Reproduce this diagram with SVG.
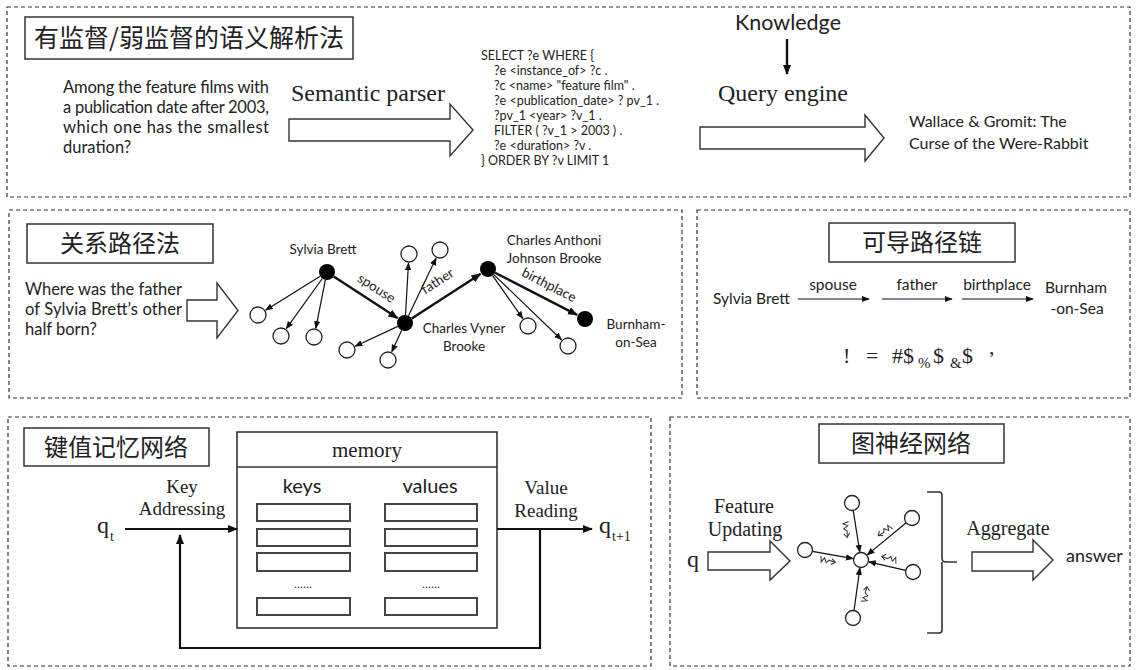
<svg xmlns="http://www.w3.org/2000/svg" width="1137" height="670" viewBox="0 0 1137 670">
  <style>
    .panel { fill: none; stroke: #333; stroke-width: 1.2; stroke-dasharray: 4 3; }
    .tbox { fill: #fff; stroke: #333; stroke-width: 1.5; }
    .cjk { font-family: "Noto Sans CJK SC", sans-serif; font-size: 24px; fill: #222; text-anchor: middle; }
    .sans { font-family: Lato, "Liberation Sans", sans-serif; fill: #222; }
    .serif { font-family: "Liberation Serif", serif; fill: #222; }
    .hollow { fill: #fff; stroke: #333; stroke-width: 1.4; stroke-linejoin: miter; }
    .edge { stroke: #111; stroke-width: 1.2; fill: none; marker-end: url(#ah); }
    .edgeb { stroke: #111; stroke-width: 2.4; fill: none; marker-end: url(#ahb); }
    .node { fill: #fff; stroke: #222; stroke-width: 1.3; }
    .fnode { fill: #000; }
    .row { fill: #fff; stroke: #444; stroke-width: 2; }
    .flow { stroke: #111; stroke-width: 2.2; fill: none; }
    .msg { stroke: #333; stroke-width: 1; fill: none; }
  </style>
  <defs>
    <marker id="ah" viewBox="0 0 10 10" refX="9" refY="5" markerWidth="8" markerHeight="8" markerUnits="userSpaceOnUse" orient="auto">
      <path d="M0,1 L10,5 L0,9 z" fill="#111"/>
    </marker>
    <marker id="ahb" viewBox="0 0 10 10" refX="9" refY="5" markerWidth="10" markerHeight="10" markerUnits="userSpaceOnUse" orient="auto">
      <path d="M0,1 L10,5 L0,9 z" fill="#111"/>
    </marker>
    <!-- small squiggle with an arrow, pointing along +x -->
    <g id="msg">
      <path class="msg" d="M-8,-4 L-6.5,2 L-4,-2.5 L-1.5,2 L1,-1 L7,0"/>
      <path class="msg" d="M3.5,-3 L7.5,0 L3.5,3"/>
    </g>
  </defs>

  <!-- ===== Panel 1: semantic parsing ===== -->
  <g id="panel-semantic">
    <rect class="panel" x="7" y="7" width="1123" height="190"/>
    <rect class="tbox" x="25" y="17" width="328" height="42"/>
    <text class="cjk" x="189" y="47" style="font-size:25px">有监督/弱监督的语义解析法</text>
  </g>
  <g id="question" class="sans" font-size="16.5">
    <text x="63" y="93" textLength="206" lengthAdjust="spacing">Among the feature films with</text>
    <text x="63" y="113" textLength="206" lengthAdjust="spacing">a publication date after 2003,</text>
    <text x="63" y="133" textLength="206" lengthAdjust="spacing">which one has the smallest</text>
    <text x="63" y="153">duration?</text>
  </g>
  <g id="semantic-parser">
    <text class="serif" x="291" y="101" font-size="24">Semantic parser</text>
    <path class="hollow" d="M289,119 H450 V104 L473,130 L450,156 V141 H289 Z"/>
  </g>
  <g id="sparql" class="sans" font-size="12.5">
    <text x="481" y="60">SELECT ?e WHERE {</text>
    <text x="494" y="75">?e &lt;instance_of&gt; ?c .</text>
    <text x="494" y="90">?c &lt;name&gt; "feature film" .</text>
    <text x="494" y="105">?e &lt;publication_date&gt; ? pv_1 .</text>
    <text x="494" y="120">?pv_1 &lt;year&gt; ?v_1 .</text>
    <text x="494" y="135">FILTER ( ?v_1 &gt; 2003 ) .</text>
    <text x="494" y="150">?e &lt;duration&gt; ?v .</text>
    <text x="481" y="165">} ORDER BY ?v LIMIT 1</text>
  </g>
  <g id="knowledge">
    <text class="sans" x="788" y="30" font-size="21.5" text-anchor="middle">Knowledge</text>
    <line class="edgeb" x1="787" y1="39" x2="787" y2="74"/>
  </g>
  <g id="query-engine">
    <text class="serif" x="718" y="101" font-size="24">Query engine</text>
    <path class="hollow" d="M700,127 H865 V115 L884,138 L865,161 V149 H700 Z"/>
  </g>
  <g id="answer-film" class="sans" font-size="16">
    <text x="909" y="127">Wallace &amp; Gromit: The</text>
    <text x="909" y="149">Curse of the Were-Rabbit</text>
  </g>

  <!-- ===== Panel 2: relation path ===== -->
  <g id="panel-relpath">
    <rect class="panel" x="9" y="210" width="673" height="188"/>
    <rect class="tbox" x="27" y="224" width="186" height="39"/>
    <text class="cjk" x="120" y="252">关系路径法</text>
  </g>
  <g id="relpath-question" class="sans" font-size="16.5">
    <text x="25" y="295" textLength="157" lengthAdjust="spacing">Where was the father</text>
    <text x="25" y="315" textLength="157" lengthAdjust="spacing">of Sylvia Brett’s other</text>
    <text x="25" y="335">half born?</text>
  </g>
  <path class="hollow" d="M187,300 H217 V283 L238,310.5 L217,338 V321 H187 Z"/>

  <g id="kg-edges">
    <line class="edgeb" x1="333.7" y1="276.4" x2="397.5" y2="318.1"/>
    <line class="edgeb" x1="411.7" y1="318.6" x2="480.5" y2="273.9"/>
    <line class="edgeb" x1="495.1" y1="272.7" x2="577" y2="314.9"/>
    <line class="edge" x1="320.2" y1="276.2" x2="265.6" y2="310.2"/>
    <line class="edge" x1="322.3" y1="278.5" x2="286.3" y2="328.7"/>
    <line class="edge" x1="325.4" y1="279.8" x2="315.8" y2="328.2"/>
    <line class="edge" x1="405.5" y1="315" x2="408.5" y2="263"/>
    <line class="edge" x1="408.5" y1="315.8" x2="436.1" y2="258.1"/>
    <line class="edge" x1="397.8" y1="326.4" x2="355.2" y2="346.2"/>
    <line class="edge" x1="401.7" y1="330.3" x2="391.8" y2="351.8"/>
    <line class="edge" x1="492.6" y1="275.6" x2="522.8" y2="318.6"/>
    <line class="edge" x1="493.8" y1="274.6" x2="561.5" y2="339.8"/>
  </g>
  <g id="kg-edge-labels" class="sans" font-size="13.5" text-anchor="middle">
    <text transform="translate(374,292) rotate(33)">spouse</text>
    <text transform="translate(440,285) rotate(-33)">father</text>
    <text transform="translate(547,289) rotate(27)">birthplace</text>
  </g>
  <g id="kg-nodes">
    <circle class="fnode" cx="327" cy="272" r="8"/>
    <circle class="fnode" cx="405" cy="323" r="8"/>
    <circle class="fnode" cx="488" cy="269" r="8"/>
    <circle class="fnode" cx="585" cy="319" r="8"/>
    <circle class="node" cx="258" cy="315" r="8"/>
    <circle class="node" cx="281" cy="336" r="8"/>
    <circle class="node" cx="314" cy="337" r="8"/>
    <circle class="node" cx="409" cy="254" r="8"/>
    <circle class="node" cx="440" cy="250" r="8"/>
    <circle class="node" cx="347" cy="350" r="8"/>
    <circle class="node" cx="388" cy="360" r="8"/>
    <circle class="node" cx="528" cy="326" r="8"/>
    <circle class="node" cx="568" cy="346" r="8"/>
  </g>
  <g id="kg-labels" class="sans" font-size="13.5" text-anchor="middle">
    <text x="323" y="254">Sylvia Brett</text>
    <text x="554" y="245">Charles Anthoni</text>
    <text x="554" y="263">Johnson Brooke</text>
    <text x="464" y="333">Charles Vyner</text>
    <text x="464" y="351">Brooke</text>
    <text x="636" y="329">Burnham-</text>
    <text x="636" y="347">on-Sea</text>
  </g>

  <!-- ===== Panel 3: differentiable path chain ===== -->
  <g id="panel-chain">
    <rect class="panel" x="697" y="210" width="433" height="188"/>
    <rect class="tbox" x="829" y="223" width="186" height="39"/>
    <text class="cjk" x="922" y="251">可导路径链</text>
  </g>
  <g id="chain" class="sans" font-size="15.5">
    <text x="713" y="304">Sylvia Brett</text>
    <text x="833" y="290" text-anchor="middle">spouse</text>
    <text x="917" y="290" text-anchor="middle">father</text>
    <text x="997" y="290" text-anchor="middle">birthplace</text>
    <text x="1045" y="293">Burnham</text>
    <text x="1077" y="314" text-anchor="middle">-on-Sea</text>
  </g>
  <g id="chain-arrows">
    <line class="edge" x1="798" y1="299" x2="869" y2="299"/>
    <line class="edge" x1="882" y1="299" x2="952" y2="299"/>
    <line class="edge" x1="962" y1="299" x2="1033" y2="299"/>
  </g>
  <g id="chain-formula" class="serif" font-size="22">
    <text x="843" y="363">!</text>
    <text x="866" y="363">=</text>
    <text x="892" y="363">#$</text>
    <text x="918" y="368" font-size="15">%</text>
    <text x="933" y="363">$</text>
    <text x="950" y="368" font-size="15">&amp;</text>
    <text x="962" y="363">$</text>
    <text x="989" y="354">,</text>
  </g>

  <!-- ===== Panel 4: key-value memory network ===== -->
  <g id="panel-kvmem">
    <rect class="panel" x="8" y="417" width="643" height="249"/>
    <rect class="tbox" x="24" y="428" width="185" height="38"/>
    <text class="cjk" x="116" y="456">键值记忆网络</text>
  </g>
  <g id="memory">
    <rect x="237" y="432" width="260" height="196" fill="#fff" stroke="#333" stroke-width="1.6"/>
    <line x1="237" y1="467" x2="497" y2="467" stroke="#333" stroke-width="1.6"/>
    <text class="serif" x="367" y="457" font-size="21" text-anchor="middle">memory</text>
    <text class="sans" x="302" y="493" font-size="20" text-anchor="middle">keys</text>
    <text class="sans" x="430" y="493" font-size="20" text-anchor="middle">values</text>
    <rect class="row" x="257" y="504" width="93" height="17"/>
    <rect class="row" x="257" y="529" width="93" height="17"/>
    <rect class="row" x="257" y="553" width="93" height="18"/>
    <rect class="row" x="257" y="598" width="93" height="17"/>
    <rect class="row" x="385" y="504" width="92" height="17"/>
    <rect class="row" x="385" y="529" width="92" height="17"/>
    <rect class="row" x="385" y="553" width="92" height="18"/>
    <rect class="row" x="385" y="598" width="92" height="17"/>
    <text class="serif" x="303" y="588" font-size="12" text-anchor="middle">......</text>
    <text class="serif" x="431" y="588" font-size="12" text-anchor="middle">......</text>
  </g>
  <g id="kv-flow">
    <line class="flow" x1="125" y1="529" x2="237" y2="529" marker-end="url(#ahb)"/>
    <line class="flow" x1="497" y1="529" x2="592" y2="529" marker-end="url(#ahb)"/>
    <path class="flow" d="M540,529 V648 H180 V535" marker-end="url(#ahb)"/>
  </g>
  <g id="kv-labels" class="serif">
    <text x="97" y="533" font-size="24">q</text>
    <text x="110" y="541" font-size="14">t</text>
    <text x="182" y="493" font-size="19" text-anchor="middle">Key</text>
    <text x="182" y="515" font-size="19" text-anchor="middle">Addressing</text>
    <text x="546" y="494" font-size="19" text-anchor="middle">Value</text>
    <text x="546" y="517" font-size="19" text-anchor="middle">Reading</text>
    <text x="599" y="533" font-size="24">q</text>
    <text x="612" y="541" font-size="14">t+1</text>
  </g>

  <!-- ===== Panel 5: graph neural network ===== -->
  <g id="panel-gnn">
    <rect class="panel" x="670" y="417" width="460" height="249"/>
    <rect class="tbox" x="819" y="424" width="185" height="39"/>
    <text class="cjk" x="911" y="452">图神经网络</text>
  </g>
  <g id="gnn-input" class="serif">
    <text x="687" y="567" font-size="24">q</text>
    <text x="744" y="513" font-size="20" text-anchor="middle">Feature</text>
    <text x="745" y="536" font-size="20" text-anchor="middle">Updating</text>
    <path class="hollow" d="M708,552 H770 V541 L790,561 L770,580 V570 H708 Z"/>
  </g>
  <g id="gnn-edges">
    <line class="edge" x1="853.2" y1="510.4" x2="859.8" y2="552.1"/>
    <line class="edge" x1="906.2" y1="522.8" x2="867.2" y2="554.9"/>
    <line class="edge" x1="905.7" y1="570.3" x2="868.8" y2="561.8"/>
    <line class="edge" x1="854" y1="610.6" x2="859.9" y2="567.9"/>
    <line class="edge" x1="812.4" y1="551.3" x2="853.1" y2="558.6"/>
  </g>
  <g id="gnn-messages">
    <use href="#msg" transform="translate(846,530) rotate(80)"/>
    <use href="#msg" transform="translate(884,531) rotate(140)"/>
    <use href="#msg" transform="translate(828,561) rotate(10)"/>
    <use href="#msg" transform="translate(889,558) rotate(193)"/>
    <use href="#msg" transform="translate(866,594) rotate(-82)"/>
  </g>
  <g id="gnn-nodes">
    <circle class="node" cx="861" cy="560" r="7.5"/>
    <circle class="node" cx="852" cy="503" r="7.5"/>
    <circle class="node" cx="912" cy="518" r="7.5"/>
    <circle class="node" cx="913" cy="572" r="7.5"/>
    <circle class="node" cx="853" cy="618" r="7.5"/>
    <circle class="node" cx="805" cy="550" r="7.5"/>
  </g>
  <g id="gnn-aggregate">
    <path d="M927,492 H939 Q942,492 942,495 V558 Q942,562 946,562 H957 M942,562 Q942,566 942,570 V630 Q942,633 939,633 H927" fill="none" stroke="#333" stroke-width="1.6"/>
    <text class="serif" x="1008" y="535" font-size="20" text-anchor="middle">Aggregate</text>
    <path class="hollow" d="M972,552 H1033 V540 L1053,560 L1033,580 V571 H972 Z"/>
    <text class="sans" x="1066" y="562" font-size="18">answer</text>
  </g>
</svg>
